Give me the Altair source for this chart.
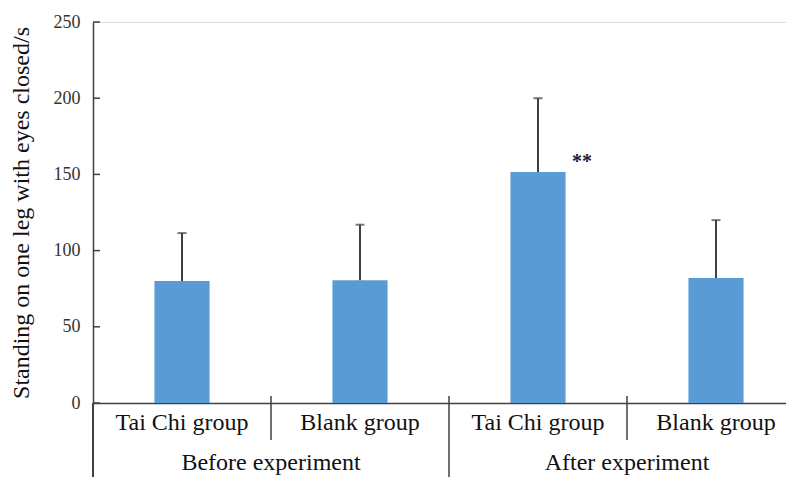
import altair as alt
import pandas as pd

# ---- data ----
groups = ["Before experiment", "Before experiment", "After experiment", "After experiment"]
labels = ["Tai Chi group", "Blank group", "Tai Chi group", "Blank group"]
means = [80, 80.5, 151.5, 82]
upper = [111.5, 117, 200, 120]
stars = ["", "", "**", ""]
y_ticks = [0, 50, 100, 150, 200, 250]

keys = [f"{g}|{l}" for g, l in zip(groups, labels)]
df = pd.DataFrame({"key": keys, "group": groups, "label": labels,
                   "mean": means, "upper": upper, "star": stars})

# group labels sit on the boundary between the two members of each group
group_names = list(dict.fromkeys(groups))
group_keys = [keys[groups.index(g) + 1] for g in group_names]
df_groups = pd.DataFrame({"key": group_keys, "group": group_names})

# separators between categories: inner (short) and between groups (long)
inner_sep = [k for i, k in enumerate(keys[1:], 1) if groups[i] == groups[i - 1]]
outer_sep = [k for i, k in enumerate(keys[1:], 1) if groups[i] != groups[i - 1]]

FONT = "Liberation Serif, Times New Roman, Times, serif"
AX = "#404040"
STEP = 178  # band step in px (range 712 / 4 categories)
HALF = -STEP / 2

x_scale = alt.Scale(domain=keys, range=[0, 4 * STEP], paddingInner=0.69, paddingOuter=0.345)
y_scale = alt.Scale(domain=[0, 250], nice=False)

x_enc = alt.X("key:N", scale=x_scale,
              axis=alt.Axis(labels=False, ticks=False, title=None,
                            domainColor=AX, domainWidth=1.5))

bars = alt.Chart(df).mark_bar(color="#5B9BD5").encode(
    x=x_enc,
    y=alt.Y("mean:Q", scale=y_scale,
            axis=alt.Axis(values=y_ticks, ticks=False, grid=False,
                          labelFont=FONT, labelFontSize=18, labelPadding=13,
                          labelColor="#333333", domainColor=AX, domainWidth=1.5,
                          title="Standing on one leg with eyes closed/s",
                          titleFont=FONT, titleFontSize=24, titleFontWeight="normal",
                          titleColor="#111111", titlePadding=20)),
)

err = alt.Chart(df).mark_rule(color=AX, strokeWidth=2).encode(
    x="key:N", y="mean:Q", y2="upper:Q")
caps = alt.Chart(df).mark_tick(color=AX, thickness=2, size=9, orient="horizontal").encode(
    x="key:N", y="upper:Q")
star_txt = alt.Chart(df).transform_filter(alt.datum.star != "").mark_text(
    font=FONT, fontSize=20, fontWeight="bold", color="#1a1a3a",
    align="center", baseline="middle", dx=44, dy=-10).encode(
    x="key:N", y="mean:Q", text="star:N")

yticks_in = alt.Chart(pd.DataFrame({"v": y_ticks})).mark_rule(color=AX, strokeWidth=1.5).encode(
    y="v:Q", x=alt.value(0), x2=alt.value(7))

cat_labels = alt.Chart(df).mark_text(font=FONT, fontSize=24, color="#111111",
                                     baseline="middle").encode(
    x="key:N", y=alt.value(401), text="label:N")

grp_labels = alt.Chart(df_groups).mark_text(font=FONT, fontSize=24, color="#111111",
                                            baseline="middle", dx=HALF).encode(
    x="key:N", y=alt.value(441), text="group:N")

sep_inner = alt.Chart(pd.DataFrame({"key": inner_sep})).mark_rule(
    color=AX, strokeWidth=1.5, xOffset=HALF).encode(
    x="key:N", y=alt.value(374), y2=alt.value(418))
sep_outer = alt.Chart(pd.DataFrame({"key": outer_sep})).mark_rule(
    color=AX, strokeWidth=1.5, xOffset=HALF).encode(
    x="key:N", y=alt.value(374), y2=alt.value(460))
left_ext = alt.Chart(df).mark_rule(color=AX, strokeWidth=1.5).encode(
    x=alt.value(0), y=alt.value(381), y2=alt.value(460))

chart = alt.layer(bars, err, caps, star_txt, yticks_in, cat_labels, grp_labels,
                  sep_inner, sep_outer, left_ext).properties(
    width=693, height=381,
    autosize=alt.AutoSizeParams(type="none"),
    padding={"left": 85, "top": 14, "right": 0, "bottom": 74},
).configure_view(stroke=None).configure(background="white")

chart.save("out.html", embed_options={"renderer": "svg", "actions": False})
